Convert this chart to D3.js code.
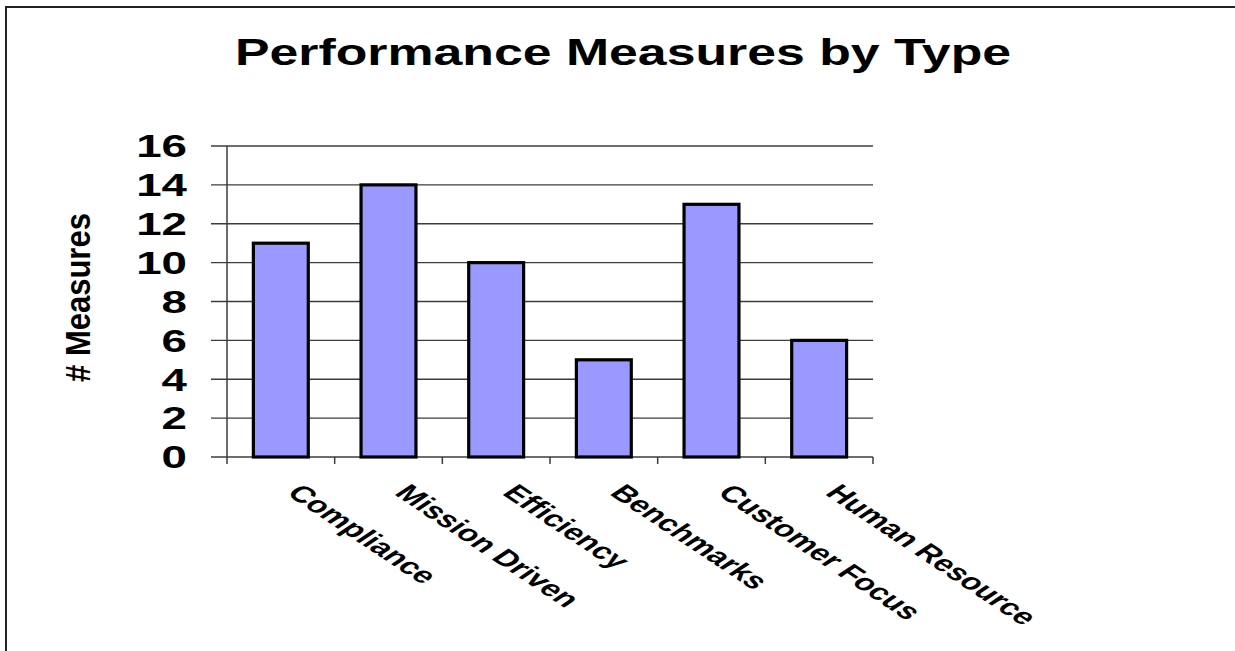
<!DOCTYPE html>
<html>
<head>
<meta charset="utf-8">
<script src="https://cdn.jsdelivr.net/npm/d3@7"></script>
<style>
  html, body { margin: 0; padding: 0; background: #fff; }
  svg { display: block; }
  text { font-family: "Liberation Sans", Arial, sans-serif; font-weight: bold; fill: #000; }
</style>
</head>
<body>
<script>
// Chart data
const categories = ["Compliance", "Mission Driven", "Efficiency", "Benchmarks", "Customer Focus", "Human Resource"];
const measureCounts = [11, 14, 10, 5, 13, 6];
const yTickValues = [0, 2, 4, 6, 8, 10, 12, 14, 16];
const chartTitle = "Performance Measures by Type";
const yAxisTitle = "# Measures";

const W = 1235, H = 651;
const plot = { left: 227, right: 873, top: 146, bottom: 457 };
const stretch = 1.4;      // horizontal stretch of title text
const labelStretch = 1.5; // horizontal stretch of rotated category labels

const svg = d3.select("body").append("svg")
  .attr("width", W).attr("height", H);

// Outer frame (top and left edges)
svg.append("path")
  .attr("d", `M6,${H} L6,7 L${W},7`)
  .attr("fill", "none")
  .attr("stroke", "#222")
  .attr("stroke-width", 2);

const x = d3.scaleBand().domain(categories).range([plot.left, plot.right]).padding(0);
const y = d3.scaleLinear().domain([0, 16]).range([plot.bottom, plot.top]);

// Title
svg.append("text")
  .attr("transform", `translate(623,65) scale(${stretch},1)`)
  .attr("text-anchor", "middle")
  .attr("font-size", 37)
  .text(chartTitle);

// Horizontal gridlines with left tick stubs
svg.append("g").selectAll("line").data(yTickValues).join("line")
  .attr("x1", 211).attr("x2", plot.right)
  .attr("y1", d => y(d)).attr("y2", d => y(d))
  .attr("stroke", "#3c3c3c").attr("stroke-width", 1.3);

// Y axis line
svg.append("line")
  .attr("x1", plot.left).attr("x2", plot.left)
  .attr("y1", plot.top).attr("y2", plot.bottom + 7)
  .attr("stroke", "#3c3c3c").attr("stroke-width", 1.5);

// Category boundary ticks
const boundaries = categories.map(c => x(c) + x.bandwidth());
svg.append("g").selectAll("line").data(boundaries).join("line")
  .attr("x1", d => d).attr("x2", d => d)
  .attr("y1", plot.bottom).attr("y2", plot.bottom + 7)
  .attr("stroke", "#3c3c3c").attr("stroke-width", 1.5);

// Y tick labels
svg.append("g").selectAll("text").data(yTickValues).join("text")
  .attr("transform", d => `translate(187,${y(d) + 11.3}) scale(1.45,1)`)
  .attr("text-anchor", "end")
  .attr("font-size", 31.5)
  .text(d => d);

// Bars
const barW = x.bandwidth() * 0.51;
svg.append("g").selectAll("rect").data(measureCounts).join("rect")
  .attr("x", (d, i) => x(categories[i]) + (x.bandwidth() - barW) / 2)
  .attr("y", d => y(d))
  .attr("width", barW)
  .attr("height", d => y(0) - y(d))
  .attr("fill", "#9999FF")
  .attr("stroke", "#000")
  .attr("stroke-width", 3.2);

// Category labels, rotated and stretched
svg.append("g").selectAll("text").data(categories).join("text")
  .attr("transform", d => `translate(${x(d) + x.bandwidth() / 2 + 5},494) scale(${labelStretch},1) rotate(45)`)
  .attr("text-anchor", "start")
  .attr("font-size", 22.8)
  .text(d => d);

// Y axis title
svg.append("text")
  .attr("transform", `translate(90,297.5) scale(1.13,1) rotate(-90)`)
  .attr("text-anchor", "middle")
  .attr("font-size", 31)
  .text(yAxisTitle);
</script>
</body>
</html>
